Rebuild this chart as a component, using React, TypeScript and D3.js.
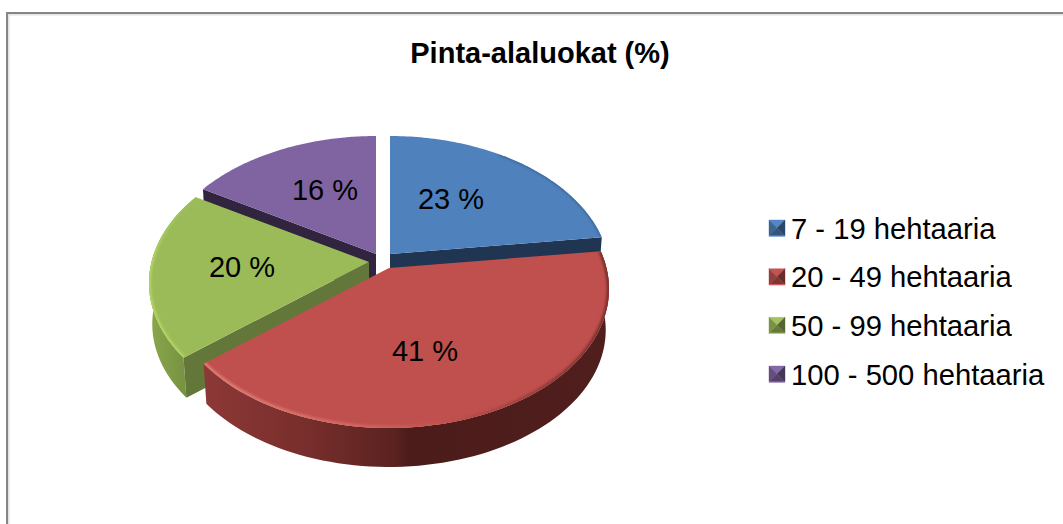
import React from "react";
import * as d3 from "d3";

const title = "Pinta-alaluokat (%)";
const categories = ["7 - 19 hehtaaria", "20 - 49 hehtaaria", "50 - 99 hehtaaria", "100 - 500 hehtaaria"];
const values = [23, 41, 19.6, 16.4];
const topColors = ["#4f81bd", "#c0504d", "#9bbb59", "#8064a2"];
const cutColors = ["#1f3552", "#4d1c1b", "#64773a", "#30243f"];
const apexX = [390, 389, 369, 376];
const apexY = [254, 268, 262, 254];
const labelX = [451, 425, 242, 325];
const labelY = [199, 351, 267, 190];

const W = 1063, H = 524;
const R = 217.5, Q = 135.8, K = 0.151, DEPTH = 41.4, SHRINK = 0.985;

type P = [number, number];
const project = (i: number, t: number, low = false): P => {
  const u = Math.sin(t), v = Math.cos(t), w = 1 + K * v;
  const dx = (R * u) / w, dy = (-Q * v) / w;
  const s = low ? SHRINK : 1;
  return [apexX[i] + dx * s, apexY[i] + dy * s + (low ? DEPTH : 0)];
};
const arcPts = (i: number, a: number, b: number, low = false): P[] =>
  d3.range(0, 81).map((k) => project(i, a + ((b - a) * k) / 80, low));
const line = d3.line<P>();

const pieGen = d3.pie<number>().sort(null).value((d) => d);
const arcs = pieGen(values);

const legendY = d3.scalePoint<number>().domain(d3.range(4)).range([228, 374]);
const color = d3.scaleOrdinal<number, string>().domain(d3.range(4)).range(topColors);

function Marker({ i, y }: { i: number; y: number }) {
  const x0 = 769, s = 16, y0 = y - 8;
  const c = d3.color(topColors[i])!;
  const tri = (pts: P[], f: string) => <path d={line(pts) + "Z"} fill={f} stroke={f} strokeWidth={0.4} />;
  const m: P = [x0 + s / 2, y0 + s / 2];
  return (
    <g>
      {tri([[x0, y0], [x0 + s, y0], m], c.brighter(0.1).formatHex())}
      {tri([[x0, y0], [x0, y0 + s], m], c.darker(0.7).formatHex())}
      {tri([[x0 + s, y0], [x0 + s, y0 + s], m], c.darker(1.7).formatHex())}
      {tri([[x0, y0 + s], [x0 + s, y0 + s], m], c.darker(1.2).formatHex())}
      <path d={`M${x0},${y0 + s}H${x0 + s}`} stroke={c.brighter(0.4).formatHex()} strokeWidth={1.2} />
    </g>
  );
}

export default function App() {
  const [blue, red, green, purple] = arcs;
  const wall = (i: number, a: number, b: number) =>
    line([...arcPts(i, a, b), ...arcPts(i, a, b, true).reverse()]) + "Z";
  const cut = (i: number, t: number) => {
    const e = project(i, t), eLow = project(i, t, true);
    return line([[apexX[i], apexY[i]], e, eLow, [apexX[i], apexY[i] + DEPTH]]) + "Z";
  };
  const top = (i: number, a: number, b: number) =>
    line([[apexX[i], apexY[i]], ...arcPts(i, a, b)]) + "Z";
  return (
    <svg width={W} height={H} style={{ position: "absolute", left: 0, top: 0 }}
      fontFamily="'Liberation Sans', Arial, sans-serif">
      <defs>
        <linearGradient id="redWall" gradientUnits="userSpaceOnUse" x1={205} x2={610} y1={0} y2={0}>
          <stop offset="0" stopColor="#8c3836" />
          <stop offset="0.25" stopColor="#782e2c" />
          <stop offset="0.47" stopColor="#5a2220" />
          <stop offset="0.5" stopColor="#4c1c1b" />
          <stop offset="1" stopColor="#4f1e1d" />
        </linearGradient>
        <linearGradient id="greenWall" gradientUnits="userSpaceOnUse" x1={148} x2={200} y1={0} y2={0}>
          <stop offset="0" stopColor="#8aa84c" />
          <stop offset="1" stopColor="#6f8a3d" />
        </linearGradient>
        <linearGradient id="redRim" gradientUnits="userSpaceOnUse" x1={205} x2={610} y1={0} y2={0}>
          <stop offset="0" stopColor="#e07f7a" />
          <stop offset="0.4" stopColor="#d06460" />
          <stop offset="0.6" stopColor="#c0504d" />
          <stop offset="0.85" stopColor="#8f3a38" />
          <stop offset="1" stopColor="#7a2f2d" />
        </linearGradient>
        <linearGradient id="greenRim" gradientUnits="userSpaceOnUse" x1={0} x2={0} y1={198} y2={357}>
          <stop offset="0" stopColor="#9bbb59" />
          <stop offset="0.4" stopColor="#b4d666" />
          <stop offset="1" stopColor="#b4d666" />
        </linearGradient>
        <filter id="soft" x="-5%" y="-5%" width="110%" height="110%">
          <feGaussianBlur stdDeviation="0.8" />
        </filter>
        <clipPath id="clipBlue"><path d={top(0, blue.startAngle, blue.endAngle)} /></clipPath>
        <clipPath id="clipRed"><path d={top(1, red.startAngle, red.endAngle)} /></clipPath>
        <clipPath id="clipGreen"><path d={top(2, green.startAngle, green.endAngle)} /></clipPath>
      </defs>

      <path d={`M${W},14.5H8.5V${H}`} fill="none" stroke="#e4e4e4" strokeWidth={2} />
      <path d={`M${W},13H7V${H}`} fill="none" stroke="#868686" strokeWidth={2} />

      <text x={540} y={63} textAnchor="middle" fontSize={29} fontWeight="bold" fill="#000">{title}</text>

      <path d={cut(3, purple.startAngle)} fill={cutColors[3]} />
      <path d={top(3, purple.startAngle, purple.endAngle)} fill={color(3)} />

      <path d={cut(0, blue.endAngle)} fill={cutColors[0]} />
      <path d={top(0, blue.startAngle, blue.endAngle)} fill={color(0)} />
      <g clipPath="url(#clipBlue)">
        <path d={line(arcPts(0, 0.6, blue.endAngle))!} fill="none" stroke="#3c6596" strokeWidth={2.5} filter="url(#soft)" />
      </g>

      <path d={wall(2, green.startAngle, green.endAngle)} fill="url(#greenWall)" />
      <path d={cut(2, green.startAngle)} fill={cutColors[2]} />
      <path d={top(2, green.startAngle, green.endAngle)} fill={color(2)} />
      <g clipPath="url(#clipGreen)">
        <path d={line(arcPts(2, green.startAngle, green.endAngle))!} fill="none" stroke="url(#greenRim)" strokeWidth={4} filter="url(#soft)" />
      </g>

      <path d={wall(1, red.startAngle, red.endAngle)} fill="url(#redWall)" />
      <path d={top(1, red.startAngle, red.endAngle)} fill={color(1)} />
      <g clipPath="url(#clipRed)">
        <path d={line(arcPts(1, red.startAngle, red.endAngle))!} fill="none" stroke="url(#redRim)" strokeWidth={5} filter="url(#soft)" />
      </g>

      {values.map((v, i) => (
        <text key={i} x={labelX[i]} y={labelY[i]} dy="0.36em" textAnchor="middle" fontSize={29} fill="#000">
          {Math.round(v)} %
        </text>
      ))}

      {categories.map((c, i) => (
        <g key={c}>
          <Marker i={i} y={legendY(i)!} />
          <text x={791} y={legendY(i)!} dy="0.36em" fontSize={29.2} fill="#000">{c}</text>
        </g>
      ))}
    </svg>
  );
}
